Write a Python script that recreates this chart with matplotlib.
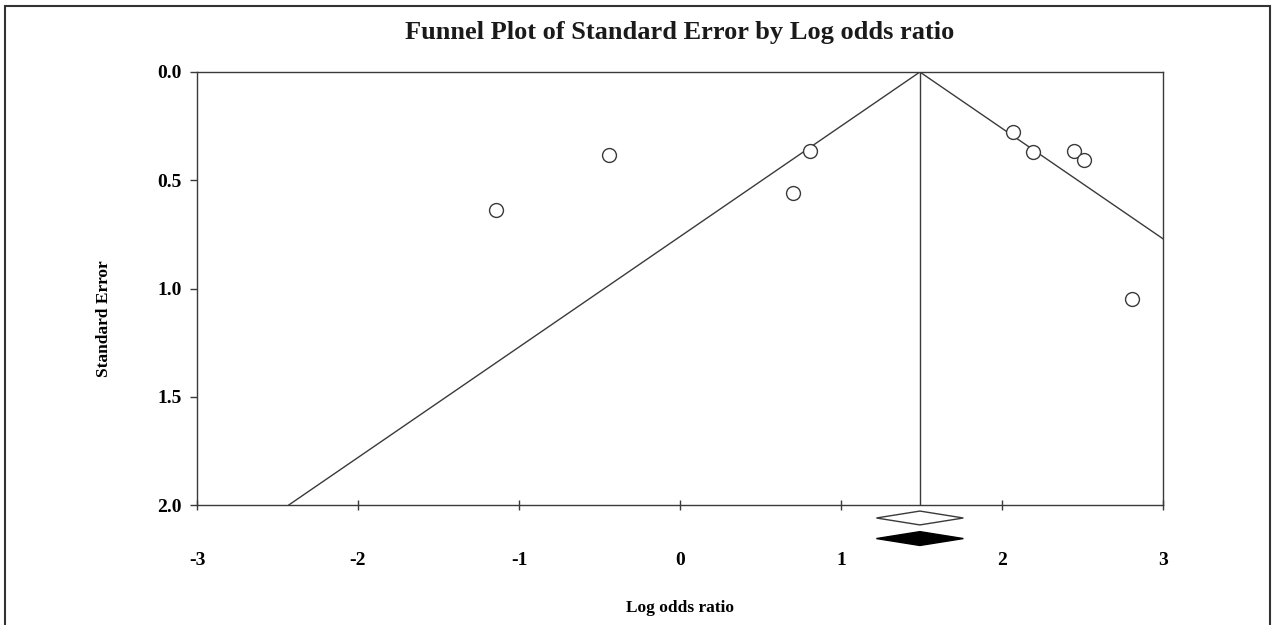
import matplotlib
matplotlib.use("Agg")
import matplotlib.pyplot as plt
import numpy as np
from matplotlib.patches import Rectangle, Polygon

log_or = [-1.14, -0.44, 0.81, 0.70, 2.07, 2.19, 2.45, 2.51, 2.81]
std_err = [0.637, 0.383, 0.365, 0.559, 0.277, 0.370, 0.365, 0.406, 1.049]
mean_effect = 1.49
ci_fixed = [1.22, 1.76]
ci_random = [1.22, 1.76]
xticks = [-3, -2, -1, 0, 1, 2, 3]
yticks = [0.0, 0.5, 1.0, 1.5, 2.0]

plt.rcParams['font.family'] = ['Liberation Serif', 'DejaVu Serif']
plt.rcParams['font.weight'] = 'bold'

fig = plt.figure(figsize=(12.73, 6.25), dpi=100)
ax = fig.add_axes([197/1273, 1-505/625, (1163-197)/1273, (505-72)/625])

lc = '#3a3a3a'
se_max = 2.0
ax.plot([mean_effect, mean_effect - 1.96*se_max], [0, se_max], color=lc, lw=1.0)
ax.plot([mean_effect, mean_effect + 1.96*se_max], [0, se_max], color=lc, lw=1.0)
ax.plot([mean_effect, mean_effect], [0, se_max], color=lc, lw=1.0)

ax.plot(log_or, std_err, 'o', ms=10, mfc='white', mec=lc, mew=1.0, ls='none', zorder=3)

# diamonds below the axis
hh = 0.032
d1y = 2.06
d2y = 2.155
ax.add_patch(Polygon([[ci_fixed[0], d1y], [mean_effect, d1y-hh], [ci_fixed[1], d1y], [mean_effect, d1y+hh]],
                     closed=True, facecolor='white', edgecolor=lc, lw=1.0, clip_on=False))
ax.add_patch(Polygon([[ci_random[0], d2y], [mean_effect, d2y-hh], [ci_random[1], d2y], [mean_effect, d2y+hh]],
                     closed=True, facecolor='black', edgecolor='black', lw=1.0, clip_on=False))

ax.set_xlim(-3, 3)
ax.set_ylim(2.0, 0.0)
ax.set_xticks(xticks)
ax.set_xticklabels([str(t) for t in xticks])
ax.set_yticks(yticks)
ax.set_yticklabels(['%.1f' % t for t in yticks])
ax.tick_params(axis='x', direction='inout', length=7, width=1, color=lc, pad=30, labelsize=14)
ax.tick_params(axis='y', direction='out', length=5, width=1, color=lc, pad=6, labelsize=14)
for s in ax.spines.values():
    s.set_color(lc)
    s.set_linewidth(1.0)

ax.set_xlabel('Log odds ratio', fontsize=12.5, fontweight='bold')
ax.set_ylabel('Standard Error', fontsize=12.5, fontweight='bold')
ax.xaxis.set_label_coords(0.5, -0.238)
ax.yaxis.set_label_coords(-0.096, 0.43)
ax.xaxis.label.set_va('center')
ax.yaxis.label.set_va('center')
fig.text(680/1273, 1-33/625, 'Funnel Plot of Standard Error by Log odds ratio',
         ha='center', va='center', fontsize=19, fontweight='bold', color='#1a1a1a')

fig.patches.append(Rectangle((5/1273, -0.05), (1270-5)/1273, 1-6/625+0.05,
                             transform=fig.transFigure, fill=False, edgecolor='#333333', lw=1.5))

fig.savefig('out.png', dpi=100)
